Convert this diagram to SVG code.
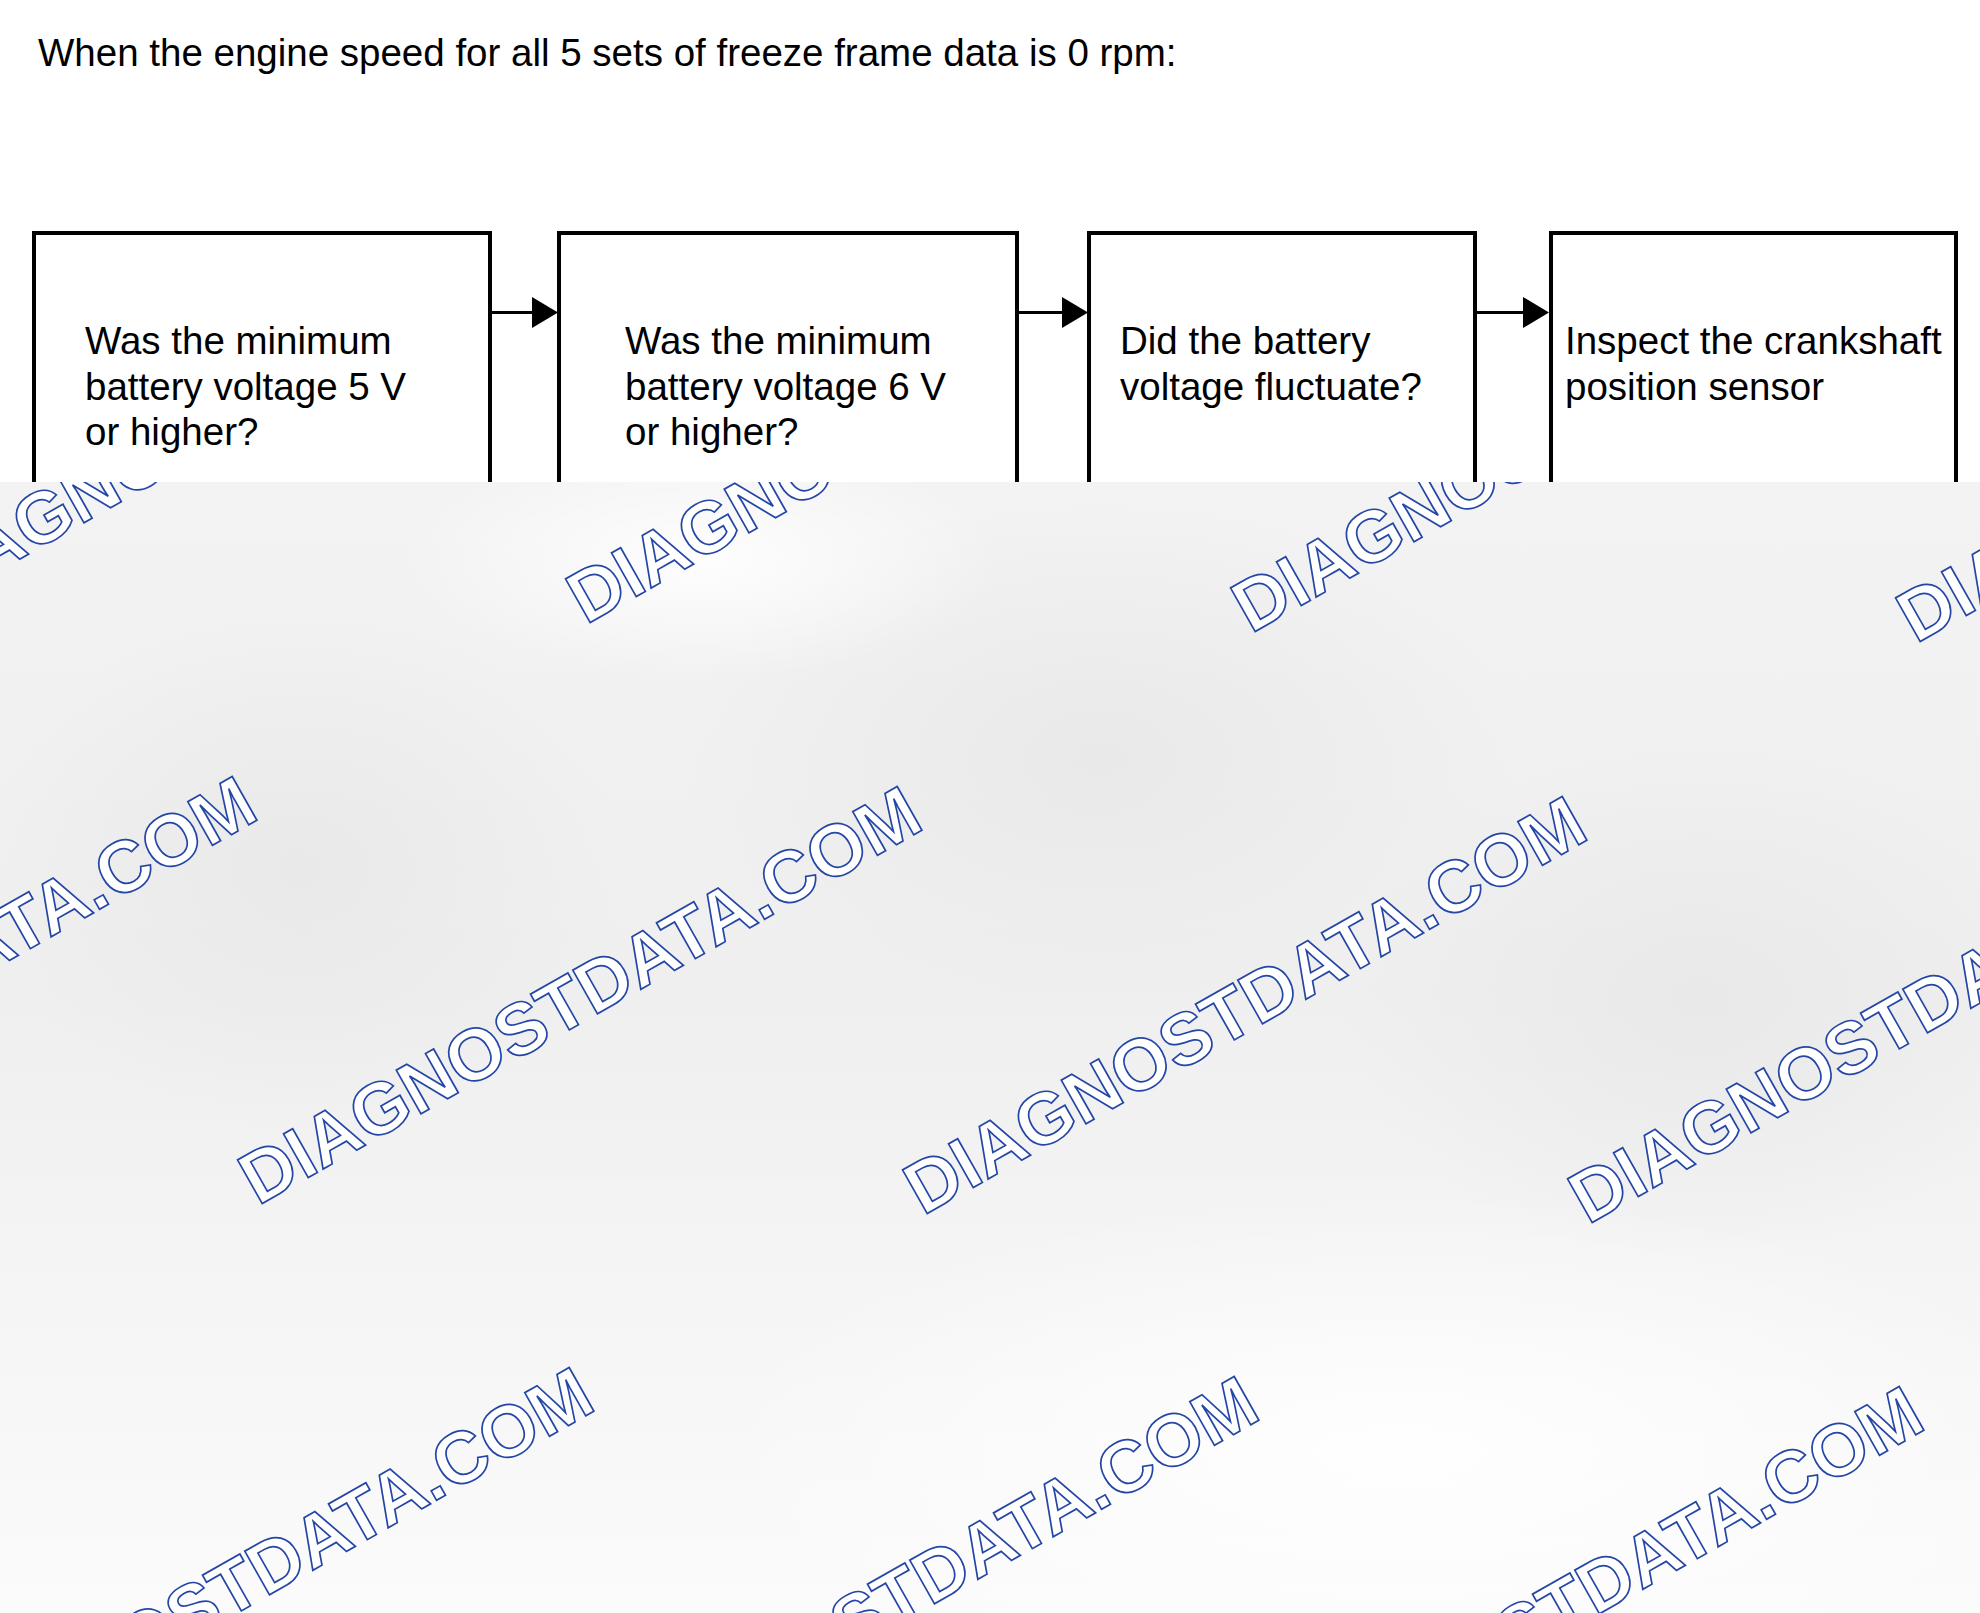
<svg xmlns="http://www.w3.org/2000/svg" width="1980" height="1613" viewBox="0 0 1980 1613">
  <style>
    .box { fill: #ffffff; stroke: #000000; stroke-width: 4; }
    .lbl { font-family: "Liberation Sans", Arial, sans-serif; font-size: 38.5px; fill: #000000; }
    .conn { stroke: #000000; stroke-width: 3; fill: none; }
    .head { fill: #000000; }
    .wm { font-family: "Liberation Sans", Arial, sans-serif; font-weight: bold; font-size: 73px; fill: #ffffff; stroke: #2446a6; stroke-width: 1.7; }
  </style>
  <defs>
    <linearGradient id="bg" x1="0" y1="0" x2="0" y2="1">
      <stop offset="0" stop-color="#f3f3f3"/>
      <stop offset="0.45" stop-color="#efeff0"/>
      <stop offset="1" stop-color="#fbfbfc"/>
    </linearGradient>
    <radialGradient id="blotL" cx="0.5" cy="0.5" r="0.5">
      <stop offset="0" stop-color="#e9e9ea" stop-opacity="1"/>
      <stop offset="1" stop-color="#e9e9ea" stop-opacity="0"/>
    </radialGradient>
    <radialGradient id="blotW" cx="0.5" cy="0.5" r="0.5">
      <stop offset="0" stop-color="#ffffff" stop-opacity="0.9"/>
      <stop offset="1" stop-color="#ffffff" stop-opacity="0"/>
    </radialGradient>
    <clipPath id="ov">
      <rect x="0" y="482" width="1980" height="1131"/>
    </clipPath>
  </defs>

  <rect x="0" y="0" width="1980" height="1613" fill="#ffffff"/>

  <text id="title" class="lbl" x="38" y="66">When the engine speed for all 5 sets of freeze frame data is 0 rpm:</text>

  <g id="connectors">
    <line class="conn" x1="492" y1="312.5" x2="536" y2="312.5"/>
    <polygon class="head" points="532,297 558,312.5 532,328"/>
    <line class="conn" x1="1019" y1="312.5" x2="1066" y2="312.5"/>
    <polygon class="head" points="1062,297 1088,312.5 1062,328"/>
    <line class="conn" x1="1477" y1="312.5" x2="1527" y2="312.5"/>
    <polygon class="head" points="1523,297 1549,312.5 1523,328"/>
  </g>

  <g id="node1">
    <rect class="box" x="34" y="233" width="456" height="400"/>
    <text class="lbl"><tspan x="85" y="354">Was the minimum</tspan><tspan x="85" y="399.5">battery voltage 5 V</tspan><tspan x="85" y="445">or higher?</tspan></text>
  </g>
  <g id="node2">
    <rect class="box" x="559" y="233" width="458" height="400"/>
    <text class="lbl"><tspan x="625" y="354">Was the minimum</tspan><tspan x="625" y="399.5">battery voltage 6 V</tspan><tspan x="625" y="445">or higher?</tspan></text>
  </g>
  <g id="node3">
    <rect class="box" x="1089" y="233" width="386" height="400"/>
    <text class="lbl"><tspan x="1120" y="354">Did the battery</tspan><tspan x="1120" y="399.5">voltage fluctuate?</tspan></text>
  </g>
  <g id="node4">
    <rect class="box" x="1551" y="233" width="405" height="400"/>
    <text class="lbl"><tspan x="1565" y="354">Inspect the crankshaft</tspan><tspan x="1565" y="399.5">position sensor</tspan></text>
  </g>

  <g id="overlay">
    <rect x="0" y="482" width="1980" height="1131" fill="url(#bg)"/>
    <g clip-path="url(#ov)">
      <ellipse cx="300" cy="870" rx="320" ry="260" fill="url(#blotL)"/>
      <ellipse cx="1100" cy="760" rx="420" ry="260" fill="url(#blotL)"/>
      <ellipse cx="1700" cy="1000" rx="360" ry="260" fill="url(#blotL)"/>
      <ellipse cx="1400" cy="1450" rx="700" ry="260" fill="url(#blotW)"/>
      <ellipse cx="700" cy="560" rx="300" ry="120" fill="url(#blotW)"/>
    </g>
  </g>

  <g id="watermarks" clip-path="url(#ov)">
    <text class="wm" transform="translate(-79,615) rotate(-29.5)">DIAGNOSTDATA.COM</text>
    <text class="wm" transform="translate(586,625) rotate(-29.5)">DIAGNOSTDATA.COM</text>
    <text class="wm" transform="translate(1251,634) rotate(-29.5)">DIAGNOSTDATA.COM</text>
    <text class="wm" transform="translate(1916,644) rotate(-29.5)">DIAGNOSTDATA.COM</text>
    <text class="wm" transform="translate(-407,1196) rotate(-29.5)">DIAGNOSTDATA.COM</text>
    <text class="wm" transform="translate(258,1206) rotate(-29.5)">DIAGNOSTDATA.COM</text>
    <text class="wm" transform="translate(923,1216) rotate(-29.5)">DIAGNOSTDATA.COM</text>
    <text class="wm" transform="translate(1588,1225) rotate(-29.5)">DIAGNOSTDATA.COM</text>
    <text class="wm" transform="translate(-70,1787) rotate(-29.5)">DIAGNOSTDATA.COM</text>
    <text class="wm" transform="translate(595,1796) rotate(-29.5)">DIAGNOSTDATA.COM</text>
    <text class="wm" transform="translate(1260,1806) rotate(-29.5)">DIAGNOSTDATA.COM</text>
  </g>
</svg>
